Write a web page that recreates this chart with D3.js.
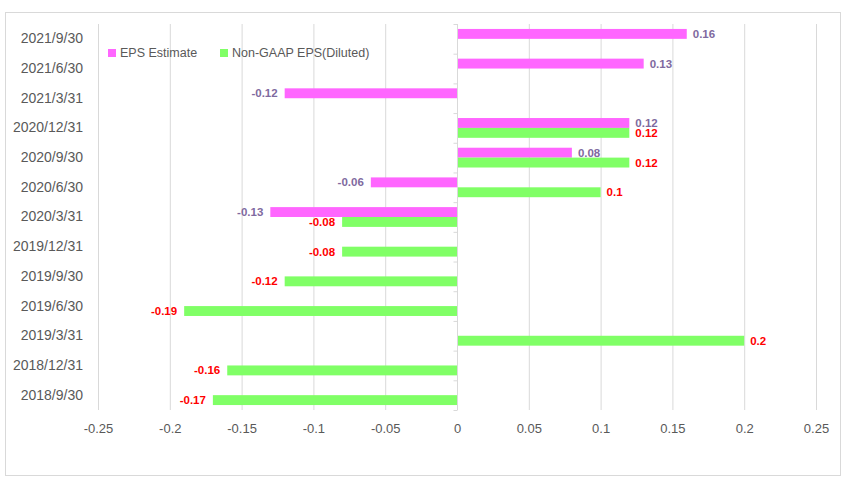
<!DOCTYPE html>
<html>
<head>
<meta charset="utf-8">
<script src="https://cdn.jsdelivr.net/npm/d3@7"></script>
<style>
  html, body { margin: 0; padding: 0; background: #fff; }
  svg { display: block; font-family: "Liberation Sans", Arial, sans-serif; }
</style>
</head>
<body>
<svg id="chart" width="850" height="484"></svg>
<script>
const categories = ["2021/9/30","2021/6/30","2021/3/31","2020/12/31","2020/9/30","2020/6/30","2020/3/31","2019/12/31","2019/9/30","2019/6/30","2019/3/31","2018/12/31","2018/9/30"];
const epsEstimate = [0.16, 0.13, -0.12, 0.12, 0.08, -0.06, -0.13, null, null, null, null, null, null];
const nonGaapEps = [null, null, null, 0.12, 0.12, 0.1, -0.08, -0.08, -0.12, -0.19, 0.2, -0.16, -0.17];
const seriesNames = ["EPS Estimate", "Non-GAAP EPS(Diluted)"];
const xTicks = [-0.25, -0.2, -0.15, -0.1, -0.05, 0, 0.05, 0.1, 0.15, 0.2, 0.25];

const colors = ["#ff66ff", "#80ff66"];
const labelColors = ["#7f6aa0", "#ff0000"];

const svg = d3.select("#chart");
const W = 850, H = 484;
const margin = { left: 98, right: 34, top: 24, bottom: 74 };

// outer frame
svg.append("rect").attr("x", 5.5).attr("y", 12.5).attr("width", 835).attr("height", 463)
  .attr("fill", "#fff").attr("stroke", "#d9d9d9").attr("stroke-width", 1);

const x = d3.scaleLinear().domain([-0.25, 0.25]).range([margin.left, W - margin.right]);
const y = d3.scaleBand().domain(categories).range([margin.top, H - margin.bottom]).paddingInner(0).paddingOuter(0);
const inner = d3.scaleBand().domain([0, 1]).range([0, y.bandwidth()]).paddingInner(0).paddingOuter(0.5);

// gridlines
const grid = svg.append("g");
grid.selectAll("line").data(xTicks.filter(t => t !== 0)).join("line")
  .attr("x1", d => x(d) + 0.5).attr("x2", d => x(d) + 0.5)
  .attr("y1", margin.top).attr("y2", H - margin.bottom)
  .attr("stroke", "#d9d9d9").attr("stroke-width", 1);

// x axis labels
const xAxis = d3.axisBottom(x).tickValues(xTicks).tickSize(0).tickPadding(14)
  .tickFormat(d => d === 0 ? "0" : String(+d.toFixed(2)));
const gx = svg.append("g").attr("transform", `translate(0,${H - margin.bottom})`).call(xAxis);
gx.select(".domain").remove();
gx.selectAll("text").attr("fill", "#595959").attr("font-size", 13);

// bars
const series = [epsEstimate, nonGaapEps];
series.forEach((vals, si) => {
  const data = categories.map((c, i) => ({ c, v: vals[i] })).filter(d => d.v !== null);
  svg.append("g").selectAll("rect").data(data).join("rect")
    .attr("x", d => Math.min(x(0), x(d.v)))
    .attr("width", d => Math.abs(x(d.v) - x(0)))
    .attr("y", d => y(d.c) + inner(si))
    .attr("height", inner.bandwidth())
    .attr("fill", colors[si]);
});

// zero axis with tick marks on the left
const yAxis = d3.axisLeft(y).tickValues([]).tickSize(0);
const gy = svg.append("g").attr("transform", `translate(${x(0) + 0.5},0)`);
gy.append("line").attr("y1", margin.top).attr("y2", H - margin.bottom).attr("stroke", "#d9d9d9");
const bounds = categories.map(c => y(c)).concat([y.range()[1]]);
gy.selectAll("line.tk").data(bounds).join("line").attr("class", "tk")
  .attr("x1", -4).attr("x2", 0).attr("y1", d => d + 0.5).attr("y2", d => d + 0.5)
  .attr("stroke", "#d9d9d9");

// category labels
const gl = svg.append("g").attr("transform", `translate(${x(-0.25)},0)`)
  .call(d3.axisLeft(y).tickSize(0).tickPadding(15));
gl.select(".domain").remove();
gl.selectAll("text").attr("fill", "#595959").attr("font-size", 14);

// data labels
series.forEach((vals, si) => {
  const data = categories.map((c, i) => ({ c, v: vals[i] })).filter(d => d.v !== null);
  svg.append("g").selectAll("text").data(data).join("text")
    .attr("x", d => d.v >= 0 ? x(d.v) + 6 : x(d.v) - 7)
    .attr("y", d => y(d.c) + inner(si) + inner.bandwidth() / 2)
    .attr("dy", "0.35em")
    .attr("text-anchor", d => d.v >= 0 ? "start" : "end")
    .attr("font-size", 11.5).attr("font-weight", "bold")
    .attr("fill", labelColors[si])
    .text(d => String(d.v));
});

// legend
const legend = svg.append("g").attr("transform", "translate(108,53)");
const lx = [0, 112];
seriesNames.forEach((n, i) => {
  const g = legend.append("g").attr("transform", `translate(${lx[i]},0)`);
  g.append("rect").attr("x", 0).attr("y", -4).attr("width", 8).attr("height", 8).attr("fill", colors[i]);
  g.append("text").attr("x", 12).attr("y", 0).attr("dy", "0.35em")
    .attr("font-size", 12.5).attr("fill", "#595959").text(n);
});
</script>
</body>
</html>
